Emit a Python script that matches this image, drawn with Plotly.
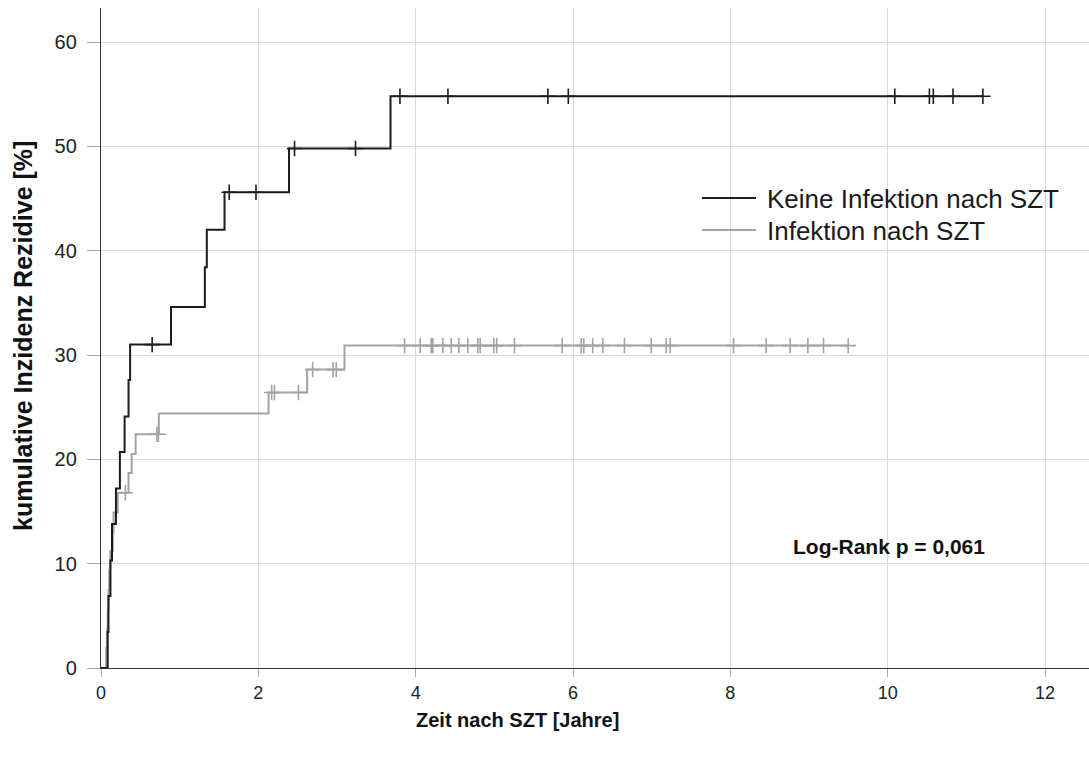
import plotly.graph_objects as go
import numpy as np

# --- data ---
black_t = [0, 0.085, 0.095, 0.12, 0.14, 0.19, 0.24, 0.30, 0.35, 0.37, 0.89, 1.32, 1.345, 1.57, 2.39, 3.68]
black_y = [0, 3.45, 6.9, 10.3, 13.8, 17.2, 20.7, 24.1, 27.6, 31.0, 34.6, 38.4, 42.0, 45.6, 49.8, 54.8]
black_cens = [0.65, 1.63, 1.97, 2.46, 3.235, 3.80, 4.41, 5.68, 5.94, 10.09, 10.53, 10.58, 10.83, 11.21]

gray_t = [0, 0.066, 0.075, 0.085, 0.095, 0.105, 0.117, 0.15, 0.16, 0.214, 0.35, 0.39, 0.44, 0.735, 2.13, 2.62, 3.095]
gray_y = [0, 1.9, 3.7, 5.6, 7.5, 9.4, 11.2, 13.0, 14.9, 16.8, 18.7, 20.5, 22.4, 24.4, 26.4, 28.6, 30.9]
gray_cens = [0.31, 0.71, 0.73, 2.17, 2.205, 2.51, 2.69, 2.95, 2.99, 3.858, 4.057, 4.197, 4.218,
             4.345, 4.452, 4.548, 4.663, 4.79, 4.82, 4.993, 5.03, 5.256, 5.862, 6.104, 6.137,
             6.25, 6.379, 6.654, 6.994, 7.185, 7.235, 8.04, 8.455, 8.76, 8.985, 9.184, 9.498]

x_ticks = [0, 2, 4, 6, 8, 10, 12]
y_ticks = [0, 10, 20, 30, 40, 50, 60]
series_names = ["Keine Infektion nach SZT", "Infektion nach SZT"]
pvalue_text = "Log-Rank p = 0,061"
x_title = "Zeit nach SZT [Jahre]"
y_title = "kumulative Inzidenz Rezidive [%]"

BLACK = "#1c1c1c"
GRAY = "#a3a3a3"
FONT = "Liberation Sans, Arial, sans-serif"


def level_at(ts, ys, t):
    idx = np.searchsorted(np.array(ts), t, side="right") - 1
    return ys[idx]


def curve(ts, ys, cens):
    end = max(cens[-1], ts[-1])
    xs = list(ts) + [end]
    yv = list(ys) + [ys[-1]]
    return xs, yv, [level_at(ts, ys, c) for c in cens]


fig = go.Figure()
for (ts, ys, cens, col, name) in [
    (gray_t, gray_y, gray_cens, GRAY, series_names[1]),
    (black_t, black_y, black_cens, BLACK, series_names[0]),
]:
    xs, yv, cy = curve(ts, ys, cens)
    fig.add_trace(go.Scatter(x=xs, y=yv, mode="lines", line=dict(color=col, width=2, shape="hv"),
                             name=name, showlegend=False, hoverinfo="skip"))
    fig.add_trace(go.Scatter(x=cens, y=cy, mode="markers",
                             marker=dict(symbol="cross-thin", size=11, line=dict(color=col, width=1.6)),
                             showlegend=False, hoverinfo="skip"))

L, R, T, B = 101, 0, 8, 92
W, H = 1089, 760
pw, ph = W - L - R, H - T - B


def px2paper(px, py):
    return (px - L) / pw, (H - B - py) / ph


# manual legend
for i, (name, col) in enumerate([(series_names[0], BLACK), (series_names[1], GRAY)]):
    py = 198 + 32 * i
    x0, y0 = px2paper(702, py)
    x1, _ = px2paper(756, py)
    fig.add_shape(type="line", xref="paper", yref="paper", x0=x0, x1=x1, y0=y0, y1=y0,
                  line=dict(color=col, width=2))
    tx, ty = px2paper(765, py + 0.5)
    fig.add_annotation(xref="paper", yref="paper", x=tx, y=ty, xanchor="left", yanchor="middle",
                       text=name, showarrow=False, font=dict(family=FONT, size=26, color="#1a1a1a"))

ax, ay = px2paper(889, 546)
fig.add_annotation(xref="paper", yref="paper", x=ax, y=ay, xanchor="center", yanchor="middle",
                   text=pvalue_text, showarrow=False,
                   font=dict(family=FONT, size=21, color="#111111", weight="bold"))

# axis titles
tx, ty = px2paper(517, 720)
fig.add_annotation(xref="paper", yref="paper", x=tx, y=ty, xanchor="center", yanchor="middle",
                   text=x_title, showarrow=False,
                   font=dict(family=FONT, size=20, color="#111111", weight="bold"))
tx, ty = px2paper(23, 336)
fig.add_annotation(xref="paper", yref="paper", x=tx, y=ty, xanchor="center", yanchor="middle",
                   text=y_title, showarrow=False, textangle=-90,
                   font=dict(family=FONT, size=25, color="#111111", weight="bold"))

fig.update_layout(
    width=W, height=H, margin=dict(l=L, r=R, t=T, b=B),
    paper_bgcolor="white", plot_bgcolor="white",
    font=dict(family=FONT, size=18, color="#222222"),
    xaxis=dict(range=[0, pw / 78.67], tickvals=x_ticks, showgrid=True, gridcolor="#dadada", gridwidth=1,
               zeroline=False, showline=True, linecolor="#333333", linewidth=1.3,
               ticks="outside", ticklen=8, tickcolor="#aaaaaa", tickwidth=1.3,
               tickfont=dict(size=18, color="#222222")),
    yaxis=dict(range=[0, ph / 10.433], tickvals=y_ticks, showgrid=True, gridcolor="#dadada", gridwidth=1,
               zeroline=False, showline=True, linecolor="#333333", linewidth=1.3,
               ticks="outside", ticklen=13, tickcolor="#aaaaaa", tickwidth=1.3,
               ticklabelstandoff=6,
               tickfont=dict(size=20, color="#222222")),
)

fig.write_html("out.html")
